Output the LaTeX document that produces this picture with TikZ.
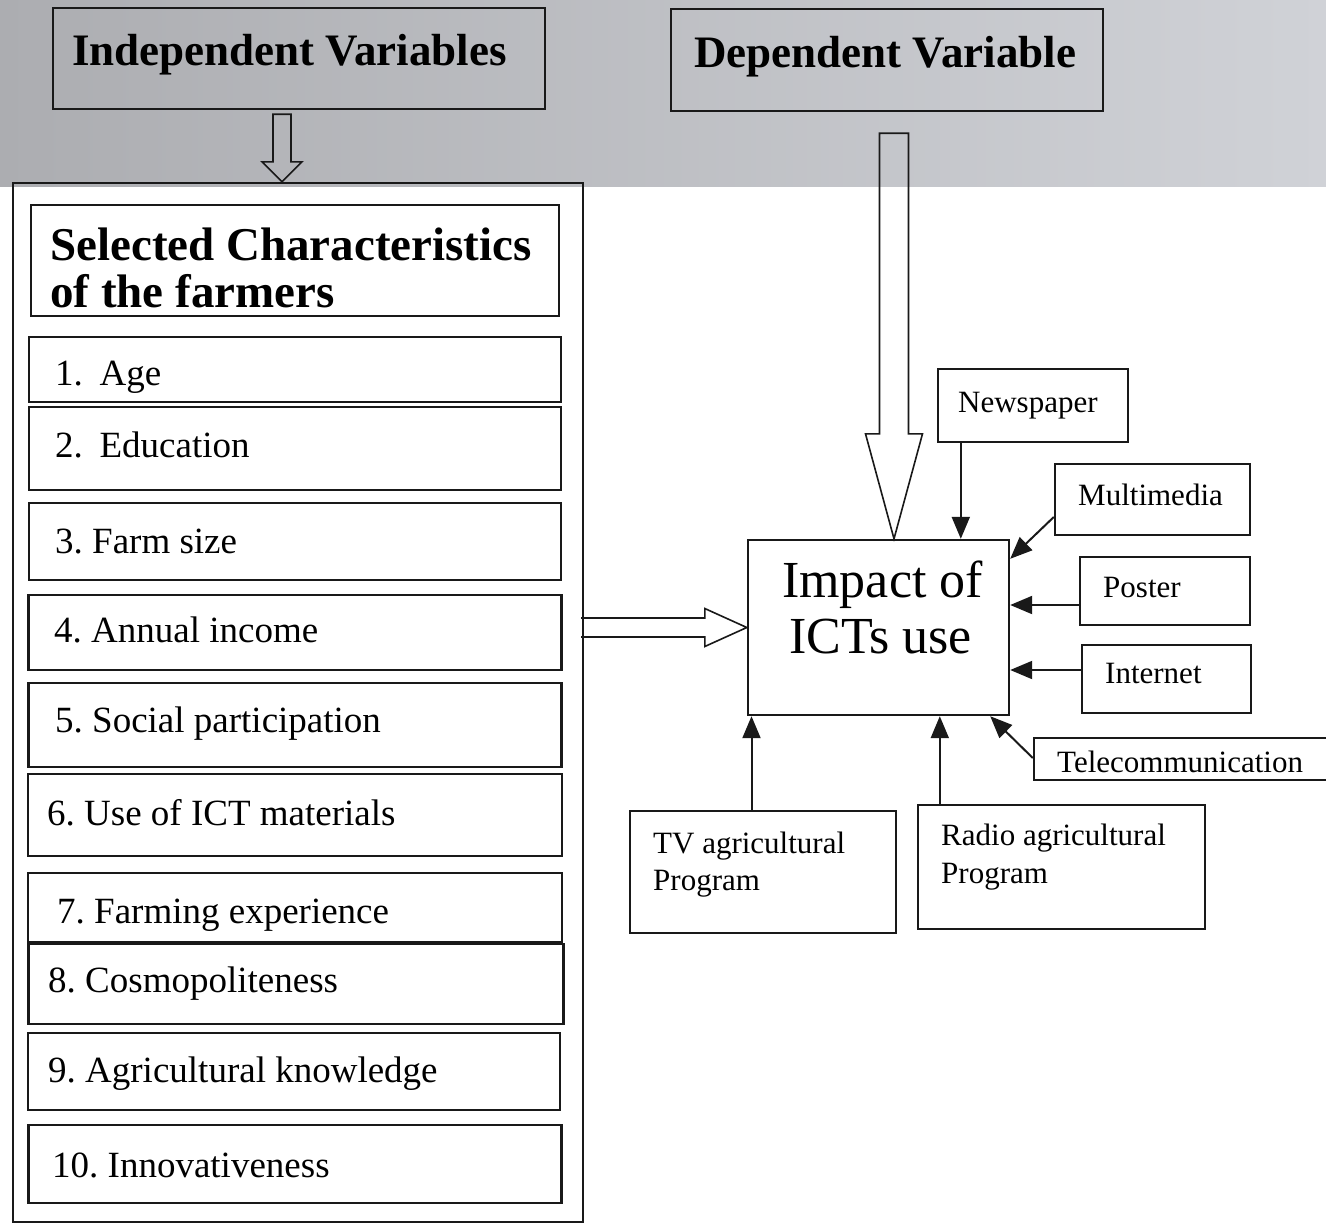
\documentclass[tikz,border=0pt]{standalone}
\usepackage{fontspec}
\setmainfont{Liberation Serif}
\usetikzlibrary{arrows.meta,calc}
\definecolor{bandL}{RGB}{172,173,177}
\definecolor{bandR}{RGB}{208,210,215}
\definecolor{ink}{RGB}{25,25,25}
\frenchspacing
\begin{document}
\begin{tikzpicture}[x=1pt,y=-1pt,
  box/.style={draw=ink, line width=2.4pt, inner sep=0pt},
  ttl/.style={inner sep=0pt, anchor=base west, font=\fontsize{45}{50}\selectfont\bfseries},
  hdr/.style={inner sep=0pt, anchor=base west, font=\fontsize{47}{50}\selectfont\bfseries},
  itm/.style={inner sep=0pt, anchor=base west, font=\fontsize{37}{42}\selectfont},
  big/.style={inner sep=0pt, anchor=base west, font=\fontsize{52}{56}\selectfont},
  sml/.style={inner sep=0pt, anchor=base west, font=\fontsize{31}{36}\selectfont},
  arr/.style={draw=ink, line width=2pt, -{Triangle[length=22pt,width=18pt]}},
  hollow/.style={draw=ink, line width=1.6pt, line join=miter}]
\useasboundingbox (0,0) rectangle (1326,1227);
\fill[white] (0,0) rectangle (1326,1227);
\shade[left color=bandL, right color=bandR] (0,0) rectangle (1326,186);

% top boxes
\node[box, minimum width=492pt, minimum height=101pt] (iv) at (299,58.5) {};
\node[ttl] (tiv) at (72,65) {Independent Variables};
\node[box, minimum width=432pt, minimum height=102pt] (dv) at (887,60) {};
\node[ttl] (tdv) at (694,67) {Dependent Variable};

% outer box and header
\node[box, minimum width=570pt, minimum height=1039pt] (outer) at (298,702.5) {};
\node[box, minimum width=528pt, minimum height=111pt] (head) at (295,260.5) {};
\node[hdr] (th1) at (50,260) {Selected Characteristics};
\node[hdr] (th2) at (50,307) {of the farmers};

% items
\node[box, minimum width=532pt, minimum height=65pt] (i1) at (295,369.5) {};
\node[box, minimum width=532pt, minimum height=83pt] (i2) at (295,448.5) {};
\node[box, minimum width=532pt, minimum height=77pt] (i3) at (295,541.5) {};
\node[box, minimum width=533pt, minimum height=75pt] (i4) at (295,632.5) {};
\node[box, minimum width=533pt, minimum height=84pt] (i5) at (295,725) {};
\node[box, minimum width=534pt, minimum height=82pt] (i6) at (295,815) {};
\node[box, minimum width=534pt, minimum height=69pt] (i7) at (295,907.5) {};
\node[box, minimum width=535pt, minimum height=80pt] (i8) at (296,984) {};
\node[box, minimum width=532pt, minimum height=77pt] (i9) at (294,1071.5) {};
\node[box, minimum width=533pt, minimum height=78pt] (i10) at (295,1164) {};
\node[itm] (t1) at (55,385) {1.\hspace{0.45em}Age};
\node[itm] (t2) at (55,457) {2.\hspace{0.45em}Education};
\node[itm] (t3) at (55,553) {3. Farm size};
\node[itm] (t4) at (54,642) {4. Annual income};
\node[itm] (t5) at (55,732) {5. Social participation};
\node[itm] (t6) at (47,825) {6. Use of ICT materials};
\node[itm] (t7) at (57,923) {7. Farming experience};
\node[itm] (t8) at (48,992) {8. Cosmopoliteness};
\node[itm] (t9) at (48,1082) {9. Agricultural knowledge};
\node[itm] (t10) at (52,1177) {10. Innovativeness};

% impact box
\node[box, minimum width=261pt, minimum height=175pt] (impact) at (878.5,627.5) {};
\node[big] (tim1) at (782,597) {Impact of};
\node[big] (tim2) at (789,653) {ICTs use};

% media boxes
\node[box, minimum width=190pt, minimum height=73pt] (news) at (1033,405.5) {};
\node[sml] (tnews) at (958,412) {Newspaper};
\node[box, minimum width=195pt, minimum height=71pt] (multi) at (1152.5,499.5) {};
\node[sml] (tmulti) at (1078,505) {Multimedia};
\node[box, minimum width=170pt, minimum height=68pt] (poster) at (1165,591) {};
\node[sml] (tposter) at (1103,597) {Poster};
\node[box, minimum width=169pt, minimum height=68pt] (internet) at (1166.5,679) {};
\node[sml] (tinternet) at (1105,683) {Internet};
\node[box, minimum width=311pt, minimum height=42pt] (telecom) at (1189.5,759) {};
\node[sml] (ttelecom) at (1057,772) {Telecommunication};
\node[box, minimum width=266pt, minimum height=122pt] (tv) at (763,872) {};
\node[sml] (ttv1) at (653,853) {TV agricultural};
\node[sml] (ttv2) at (653,890) {Program};
\node[box, minimum width=287pt, minimum height=124pt] (radio) at (1061.5,867) {};
\node[sml] (tradio1) at (941,845) {Radio agricultural};
\node[sml] (tradio2) at (941,883) {Program};

% thin arrows
\draw[arr] ([xshift=24pt]news.south west) -- ([xshift=24pt]news.south west |- impact.north);
\draw[arr] ([yshift=-17.5pt]multi.west) -- ([yshift=-20pt]impact.north east);
\draw[arr] ([yshift=-14pt]poster.west) -- ([yshift=-14pt]poster.west -| impact.east);
\draw[arr] ([yshift=9pt]internet.west) -- ([yshift=9pt]internet.west -| impact.east);
\draw[arr] ([yshift=1pt]telecom.west) -- ([xshift=-20pt]impact.south east);
\draw[arr] ([xshift=-11.5pt]tv.north) -- ([xshift=-11.5pt]tv.north |- impact.south);
\draw[arr] ([xshift=23pt]radio.north west) -- ([xshift=23pt]radio.north west |- impact.south);

% hollow arrows
\coordinate (a1s) at ([xshift=-17pt,yshift=-4pt]iv.south);
\coordinate (a1t) at (a1s |- outer.north);
\draw[hollow] ($(a1s)+(-9,0)$) -- ($(a1s)+(9,0)$) -- ($(a1t)+(9,-20)$) -- ($(a1t)+(20,-20)$)
  -- (a1t) -- ($(a1t)+(-20,-20)$) -- ($(a1t)+(-9,-20)$) -- cycle;

\coordinate (a2s) at ([xshift=7pt,yshift=-21pt]dv.south);
\coordinate (a2t) at (a2s |- impact.north);
\draw[hollow] ($(a2s)+(-14.5,0)$) -- ($(a2s)+(14.5,0)$) -- ($(a2t)+(14.5,-105)$) -- ($(a2t)+(28.5,-105)$)
  -- (a2t) -- ($(a2t)+(-28.5,-105)$) -- ($(a2t)+(-14.5,-105)$) -- cycle;

\coordinate (a3s) at ([xshift=-3pt]outer.east |- impact.west);
\coordinate (a3t) at (impact.west);
\draw[hollow] ($(a3s)+(0,-9.5)$) -- ($(a3t)+(-42,-9.5)$) -- ($(a3t)+(-42,-19)$) -- (a3t)
  -- ($(a3t)+(-42,19)$) -- ($(a3t)+(-42,9.5)$) -- ($(a3s)+(0,9.5)$);
\end{tikzpicture}
\end{document}
